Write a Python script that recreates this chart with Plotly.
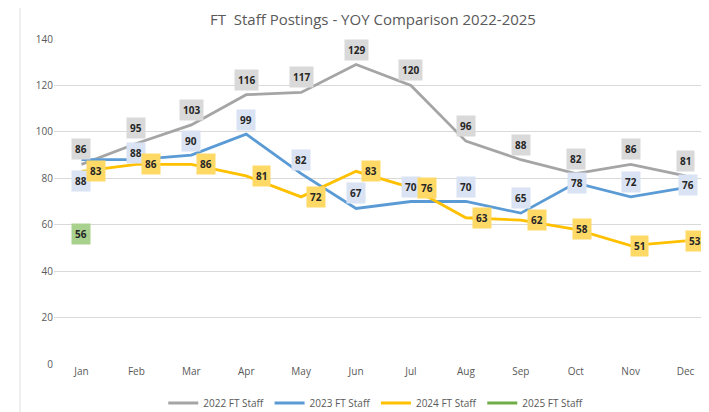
import plotly.graph_objects as go

months = ["Jan", "Feb", "Mar", "Apr", "May", "Jun", "Jul", "Aug", "Sep", "Oct", "Nov", "Dec"]
staff_2022 = [86, 95, 103, 116, 117, 129, 120, 96, 88, 82, 86, 81]
staff_2023 = [88, 88, 90, 99, 82, 67, 70, 70, 65, 78, 72, 76]
staff_2024 = [83, 86, 86, 81, 72, 83, 76, 63, 62, 58, 51, 53]
staff_2025 = [56]
y_ticks = [0, 20, 40, 60, 80, 100, 120, 140]

series = [
    ("2022 FT Staff", staff_2022, "#A5A5A5", "#D9D9D9"),
    ("2023 FT Staff", staff_2023, "#5B9BD5", "#DAE3F3"),
    ("2024 FT Staff", staff_2024, "#FFC000", "#FFD966"),
    ("2025 FT Staff", staff_2025, "#70AD47", "#A9D18E"),
]

# label pixel offsets (style only)
offsets = {
    "2022 FT Staff": [(0, 15)] * 12,
    "2023 FT Staff": [(0, -21), (0, 7), (0, 14), (0, 14), (0, 14), (0, 15), (0, 15),
                      (0, 15), (0, 15), (1, 0), (0, 15), (2, 3)],
    "2024 FT Staff": [(15, 0), (15, 0), (15, 0), (15, 0), (15, 0), (15, 0), (16, 0),
                      (16, 0), (16, 0), (6, 0), (9, 0), (9, 0)],
    "2025 FT Staff": [(0, 0)],
}

fig = go.Figure()
for name, vals, col, fill in series:
    fig.add_trace(go.Scatter(
        x=months[:len(vals)], y=vals, name=name, mode="lines",
        line=dict(color=col, width=2.8),
    ))

annotations = []
for name, vals, col, fill in series:
    for i, v in enumerate(vals):
        dx, dy = offsets[name][i]
        annotations.append(dict(
            x=months[i], y=v, xref="x", yref="y", text="<b>%d</b>" % v,
            showarrow=False, xshift=dx, yshift=dy,
            font=dict(family="Open Sans, Arial", size=10, color="#262626"),
            bgcolor=fill, borderpad=3,
        ))

fig.update_layout(
    width=709, height=412,
    margin=dict(l=46, r=4, t=31, b=56, autoexpand=False),
    paper_bgcolor="white", plot_bgcolor="white",
    title=dict(text="FT  Staff Postings - YOY Comparison 2022-2025",
               x=0.484, xref="paper", xanchor="center", y=0.972, yanchor="middle",
               font=dict(family="Open Sans, Arial", size=15, color="#595959")),
    xaxis=dict(type="category", categoryorder="array", categoryarray=months,
               range=[-0.5, 11.5], showgrid=False, showline=False, zeroline=False,
               automargin=False, ticks="",
               tickfont=dict(family="Open Sans, Arial", size=10, color="#595959")),
    yaxis=dict(range=[0, 140], tickvals=y_ticks, showgrid=True, gridcolor="#D9D9D9",
               gridwidth=1, zeroline=False, showline=False, ticks="", automargin=False,
               tickfont=dict(family="Open Sans, Arial", size=10, color="#595959")),
    legend=dict(orientation="h", x=0.489, xanchor="center", y=-0.12, yanchor="middle",
                font=dict(family="Open Sans, Arial", size=10, color="#595959"),
                itemwidth=30, bgcolor="rgba(0,0,0,0)"),
    annotations=annotations,
    shapes=[dict(type="line", xref="paper", yref="paper", x0=-0.0516, x1=-0.0516,
                 y0=-0.3, y1=1.2, line=dict(color="#E0E0E0", width=1))],
)

fig.write_html("out.html")
